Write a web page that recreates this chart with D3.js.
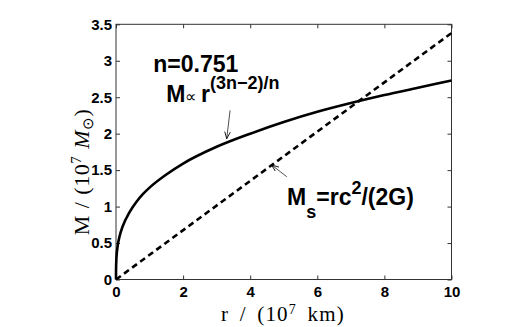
<!DOCTYPE html>
<html><head><meta charset="utf-8">
<script src="https://cdn.jsdelivr.net/npm/d3@7"></script>
<style>
html,body{margin:0;padding:0;background:#fff;}
svg{display:block;}
.tick text{font-family:"Liberation Sans",Arial,sans-serif;font-weight:bold;font-size:15px;fill:#000;}
</style></head>
<body>
<svg id="chart" width="520" height="327"></svg>
<script>
// Data
const radius = [0, 0.001, 0.01, 0.05, 0.1, 0.2, 0.4, 0.6, 0.8, 1, 1.5, 2, 3, 4, 5, 6, 7, 8, 9, 10];
const massPowerLaw = [0, 0.12, 0.27, 0.46, 0.58, 0.73, 0.92, 1.06, 1.17, 1.26, 1.44, 1.59, 1.82, 2.0, 2.16, 2.3, 2.42, 2.53, 2.63, 2.73];
const radiusSchw = [0, 10];
const massSchw = [0, 3.38];
const xTicks = [0, 2, 4, 6, 8, 10];
const yTicks = [0, 0.5, 1, 1.5, 2, 2.5, 3, 3.5];
const yTickLabels = ["0", "0.5", "1", "1.5", "2", "2.5", "3", "3.5"];

const svg = d3.select("#chart");
const L = 116, R = 451.5, T = 24.3, B = 279.5;
const x = d3.scaleLinear().domain([0, 10]).range([L, R]);
const y = d3.scaleLinear().domain([0, 3.5]).range([B, T]);

const axisColor = "#333";
svg.append("rect").attr("x", L).attr("y", T).attr("width", R - L).attr("height", B - T)
  .attr("fill", "none").attr("stroke", axisColor).attr("stroke-width", 1);

const gx = svg.append("g").attr("transform", `translate(0,${B})`)
  .call(d3.axisBottom(x).tickValues(xTicks).tickFormat(d3.format("d")).tickSizeInner(-4).tickSizeOuter(0).tickPadding(7));
const gy = svg.append("g").attr("transform", `translate(${L},0)`)
  .call(d3.axisLeft(y).tickValues(yTicks).tickFormat((d, i) => yTickLabels[i]).tickSizeInner(-4).tickSizeOuter(0).tickPadding(4));
const gt = svg.append("g").attr("transform", `translate(0,${T})`)
  .call(d3.axisTop(x).tickValues(xTicks).tickFormat("").tickSizeInner(-4).tickSizeOuter(0));
const gr = svg.append("g").attr("transform", `translate(${R},0)`)
  .call(d3.axisRight(y).tickValues(yTicks).tickFormat("").tickSizeInner(-4).tickSizeOuter(0));
[gx, gy, gt, gr].forEach(g => {
  g.select(".domain").remove();
  g.selectAll(".tick line").attr("stroke", axisColor);
});
gx.selectAll(".tick text").attr("dy", "0.71em");

const line = d3.line().x(d => x(d[0])).y(d => y(d[1])).curve(d3.curveMonotoneX);
svg.append("path").datum(radius.map((r, i) => [r, massPowerLaw[i]]))
  .attr("d", line).attr("fill", "none").attr("stroke", "#000").attr("stroke-width", 2.6);
svg.append("path").datum(radiusSchw.map((r, i) => [r, massSchw[i]]))
  .attr("d", d3.line().x(d => x(d[0])).y(d => y(d[1])))
  .attr("fill", "none").attr("stroke", "#000").attr("stroke-width", 2.6).attr("stroke-dasharray", "6,4");

svg.append("defs").append("marker").attr("id", "ah").attr("viewBox", "0 0 10 10")
  .attr("refX", 10).attr("refY", 5).attr("markerWidth", 7).attr("markerHeight", 7)
  .attr("markerUnits", "userSpaceOnUse").attr("orient", "auto")
  .append("path").attr("d", "M0,1 L10,5 L0,9").attr("fill", "none").attr("stroke", "#000").attr("stroke-width", 1.2);

function arrow(r0, m0, r1, m1) {
  svg.append("line").attr("x1", x(r0)).attr("y1", y(m0)).attr("x2", x(r1)).attr("y2", y(m1))
    .attr("stroke", "#222").attr("stroke-width", 0.8).attr("marker-end", "url(#ah)");
}
arrow(3.4, 2.32, 3.3, 1.93);
arrow(5.09, 1.41, 4.64, 1.57);

const sans = '"Liberation Sans",Arial,sans-serif';
svg.append("text").attr("x", x(1.11)).attr("y", y(2.845)).attr("font-family", sans)
  .attr("font-weight", "bold").attr("font-size", 23).text("n=0.751");
const t2 = svg.append("text").attr("x", x(1.5)).attr("y", y(2.43)).attr("font-family", sans)
  .attr("font-weight", "bold").attr("font-size", 23);
t2.append("tspan").text("M");
t2.append("tspan").attr("font-weight", "normal").attr("font-size", 16).text("\u221D ");
t2.append("tspan").text("r");
t2.append("tspan").attr("font-size", 18).attr("dy", -13).text("(3n\u22122)/n");

const t3 = svg.append("text").attr("x", x(5.1)).attr("y", y(1.02)).attr("font-family", sans)
  .attr("font-weight", "bold").attr("font-size", 23);
t3.append("tspan").text("M");
t3.append("tspan").attr("font-size", 18).attr("dy", 13).text("s");
t3.append("tspan").attr("dy", -13).text("=rc");
t3.append("tspan").attr("font-size", 18).attr("dy", -11).text("2");
t3.append("tspan").attr("dy", 11).text("/(2G)");

const serif = '"Liberation Serif","Times New Roman",serif';
const xl = svg.append("text").attr("x", 283).attr("y", 321).attr("text-anchor", "middle")
  .attr("font-family", serif).attr("font-size", 21)
  .attr("letter-spacing", 1.2).attr("word-spacing", 4);
xl.append("tspan").text("r / (10");
xl.append("tspan").attr("font-size", 14).attr("dy", -7).text("7");
xl.append("tspan").attr("dy", 7).text(" km)");

const yl = svg.append("text").attr("transform", "translate(89,172) rotate(-90)").attr("text-anchor", "middle")
  .attr("font-family", serif).attr("font-size", 22)
  .attr("letter-spacing", 0.5).attr("word-spacing", 1);
yl.append("tspan").text("M / (10");
yl.append("tspan").attr("font-size", 15).attr("dy", -8).text("7");
yl.append("tspan").attr("dy", 8).attr("font-style", "italic").text(" M");
yl.append("tspan").attr("font-size", 15).attr("dy", 4).text("\u2299");
yl.append("tspan").attr("dy", -4).text(")");
</script>
</body></html>
